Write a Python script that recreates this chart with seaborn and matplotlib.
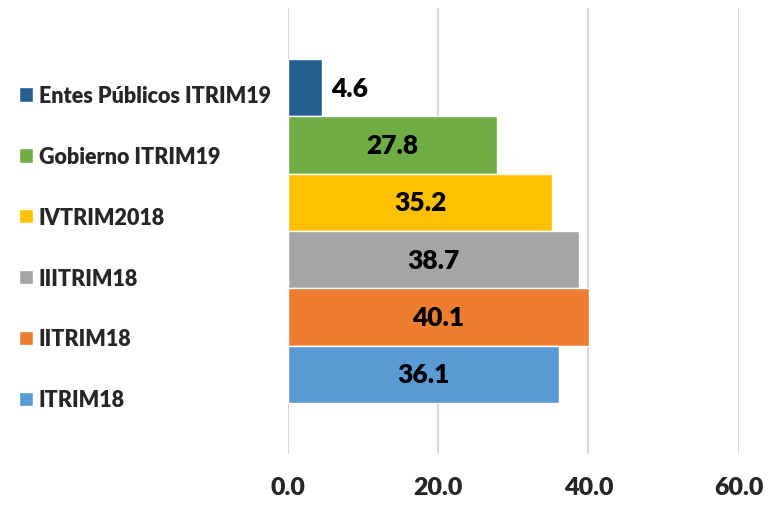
import matplotlib
matplotlib.use('Agg')
import matplotlib.pyplot as plt
import seaborn as sns
import pandas as pd
from matplotlib.patches import Patch

# -----------------------------
# Data (top to bottom as drawn)
# -----------------------------
categories = ['Entes Públicos ITRIM19', 'Gobierno ITRIM19', 'IVTRIM2018',
              'IIITRIM18', 'IITRIM18', 'ITRIM18']
values = [4.6, 27.8, 35.2, 38.7, 40.1, 36.1]
colors = ['#255E91', '#70AD47', '#FFC000', '#A5A5A5', '#ED7D31', '#5B9BD5']
x_ticks = [0, 20, 40, 60]

df = pd.DataFrame({'CATEGORY': categories, 'VALUE': values})

sns.set_style('white')
plt.rcParams['font.family'] = ['Lato', 'DejaVu Sans']

fig = plt.figure(figsize=(7.8, 5.06), dpi=100)
ax = fig.add_axes([0.369, 0.1008, 0.578, 0.8814])

sns.barplot(
    data=df, y='CATEGORY', x='VALUE', hue='CATEGORY',
    order=categories, hue_order=categories,
    palette=colors, width=1.0, dodge=False, legend=False,
    saturation=1, ax=ax
)

# value labels: inside the bar, or just past the end when the bar is short
for i, v in enumerate(values):
    if v < 10:
        ax.text(v + 1.2, i, f'{v:.1f}', ha='left', va='center',
                fontsize=19, fontweight='heavy', color='black')
    else:
        ax.text(v / 2, i, f'{v:.1f}', ha='center', va='center',
                fontsize=19, fontweight='heavy', color='black')

ax.set_xlim(0, 60)
ax.set_ylim(5.5 + 0.89, -0.5 - 0.89)
ax.set_xticks(x_ticks)
ax.set_xticklabels([f'{t:.1f}' for t in x_ticks], fontsize=18, fontweight='heavy')
ax.tick_params(axis='x', length=0, pad=16)
ax.set_yticks([])
ax.set_xlabel('')
ax.set_ylabel('')
ax.xaxis.grid(True, color='#D9D9D9', linewidth=1.5)
ax.set_axisbelow(True)
for s in ax.spines.values():
    s.set_visible(False)

handles = [Patch(facecolor=c, label=l) for c, l in zip(colors, categories)]
fig.legend(handles=handles, loc='upper left', bbox_to_anchor=(0.0, 0.868),
           frameon=False, prop={'weight': 'heavy', 'size': 15.5},
           handlelength=0.65, handleheight=0.65, handletextpad=0.25,
           labelspacing=1.85)

plt.savefig('out.png', dpi=100)
